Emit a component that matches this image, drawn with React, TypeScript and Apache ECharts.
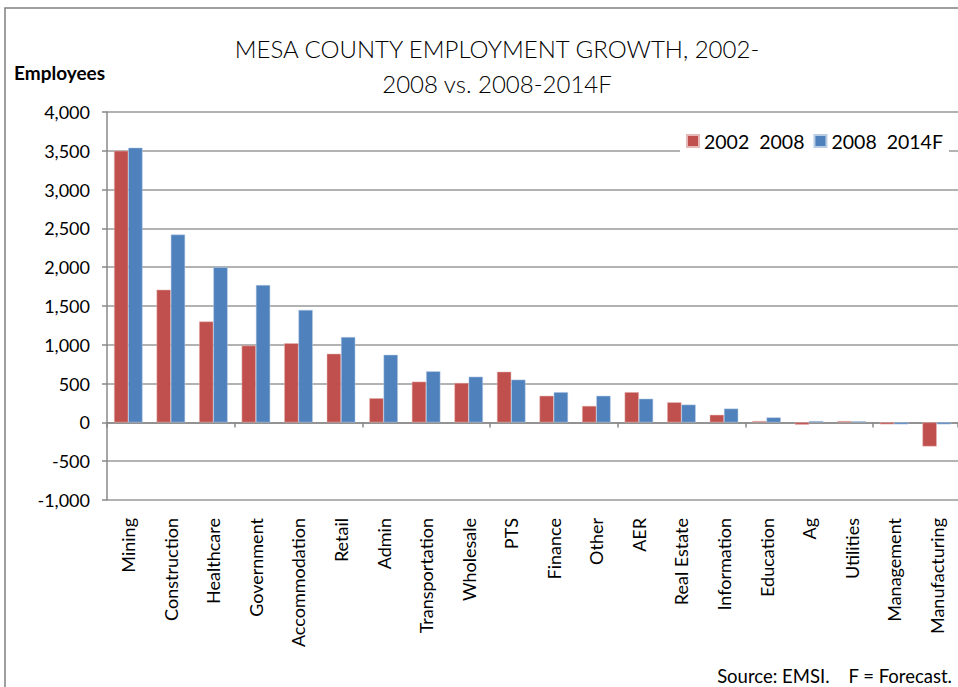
import React, { useEffect, useRef } from "react";
import * as echarts from "echarts";

const categories = [
  "Mining", "Construction", "Healthcare", "Government", "Accommodation", "Retail",
  "Admin", "Transportation", "Wholesale", "PTS", "Finance", "Other", "AER",
  "Real Estate", "Information", "Education", "Ag", "Utilities", "Management", "Manufacturing",
];
const growth2002_2008 = [3500, 1710, 1300, 990, 1020, 885, 312, 525, 508, 653, 343, 212, 390, 259, 98, 17, -30, 17, -25, -310];
const growth2008_2014F = [3540, 2420, 2000, 1770, 1450, 1100, 871, 658, 589, 551, 390, 343, 305, 229, 178, 64, 17, 15, -25, -25];
const seriesNames = ["2002  2008", "2008  2014F"];
const yTicks = { min: -1000, max: 4000, interval: 500 };

const FONT = "Lato, 'Open Sans', sans-serif";

export default function App() {
  const ref = useRef<HTMLDivElement>(null);
  useEffect(() => {
    if (!ref.current) return;
    const chart = echarts.init(ref.current, undefined, { renderer: "svg" });
    chart.setOption({
      animation: false,
      backgroundColor: "#fff",
      textStyle: { fontFamily: FONT },
      grid: { left: 107, top: 112, width: 856, height: 388, containLabel: false },
      legend: {
        data: seriesNames,
        left: 680,
        top: 127,
        itemWidth: 12,
        itemHeight: 12,
        itemGap: 9,
        padding: [4, 6],
        backgroundColor: "#fff",
        icon: "rect",
        textStyle: { fontFamily: FONT, fontSize: 19.5, color: "#000" },
      },
      xAxis: [
        {
          type: "category",
          data: categories,
          position: "bottom",
          axisLine: { show: false, onZero: false },
          axisTick: { show: false },
          axisLabel: { rotate: 90, margin: 18, fontSize: 18, color: "#000", fontFamily: FONT, interval: 0 },
        },
        {
          type: "category",
          data: categories,
          position: "bottom",
          axisLine: { show: true, onZero: true, lineStyle: { color: "#888", width: 1.5 } },
          axisTick: { show: true, length: 5, lineStyle: { color: "#888", width: 1.5 } },
          axisLabel: { show: false },
        },
      ],
      yAxis: {
        type: "value",
        min: yTicks.min,
        max: yTicks.max,
        interval: yTicks.interval,
        axisLine: { show: true, lineStyle: { color: "#888", width: 1.5 } },
        axisTick: { show: true, length: 5, lineStyle: { color: "#888", width: 1.5 } },
        axisLabel: {
          fontSize: 18,
          color: "#000",
          margin: 17,
          fontFamily: FONT,
          formatter: (v: number) => v.toLocaleString("en-US"),
        },
        splitLine: { show: true, lineStyle: { color: "#999", width: 1.5 } },
      },
      series: [
        {
          name: seriesNames[0],
          type: "bar",
          data: growth2002_2008,
          barGap: "0%",
          barCategoryGap: "33%",
          itemStyle: { color: "#C0504D", borderColor: "#E6B8B7", borderWidth: 0.5 },
        },
        {
          name: seriesNames[1],
          type: "bar",
          data: growth2008_2014F,
          barGap: "0%",
          barCategoryGap: "33%",
          itemStyle: { color: "#4F81BD", borderColor: "#B8CCE4", borderWidth: 0.5 },
        },
      ],
      graphic: [
        {
          type: "rect",
          shape: { x: 5, y: 8, width: 1000, height: 1000 },
          style: { fill: "none", stroke: "#808080", lineWidth: 1.5 },
          silent: true,
        },
        {
          type: "text",
          x: 497,
          y: 31,
          style: {
            text: "MESA COUNTY EMPLOYMENT GROWTH, 2002-\n2008 vs. 2008-2014F",
            textAlign: "center",
            font: `300 24px ${FONT}`,
            lineHeight: 35,
            fill: "#000",
          },
        },
        {
          type: "text",
          x: 14,
          y: 63,
          style: { text: "Employees", font: `bold 19px ${FONT}`, fill: "#000" },
        },
        {
          type: "text",
          x: 952,
          y: 666,
          style: { text: "Source: EMSI.    F = Forecast.", textAlign: "right", font: `18.5px ${FONT}`, fill: "#000" },
        },
      ],
    });
    return () => chart.dispose();
  }, []);
  return (
    <div
      ref={ref}
      style={{ position: "fixed", left: 0, top: 0, width: 958, height: 687 }}
    />
  );
}
